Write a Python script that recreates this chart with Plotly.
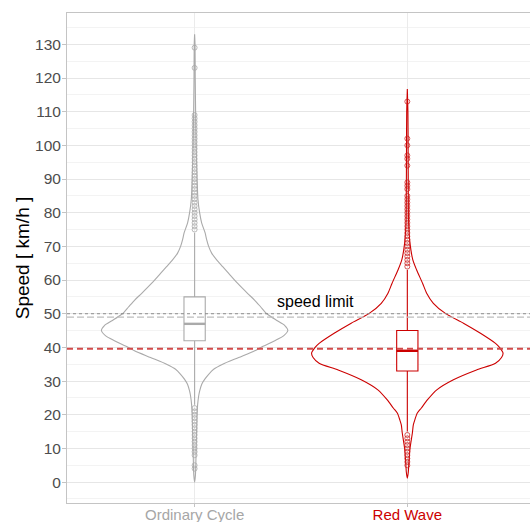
import plotly.graph_objects as go

# ---------------- data ----------------
categories = ["Ordinary Cycle", "Red Wave"]
positions = [1, 2]

# violin outline: speed (km/h) vs relative half-width (1.0 = widest allowed)
ord_speed = [0, 2, 5, 10, 15, 20, 23, 25.5, 27, 29, 30.5, 32, 33.5, 35, 37, 39, 40, 42,
             43.5, 45, 46.5, 48, 50, 52, 54, 56, 59, 62, 64, 66, 68, 70, 72, 74, 77, 80,
             84, 90, 100, 110, 120, 130, 133]
ord_width = [0, 0.8, 1.2, 1.5, 2, 2.5, 3, 4, 5, 7, 10, 14, 19, 28, 44, 60, 66, 80,
             89, 93, 90, 82, 72, 66, 60, 53, 43, 34, 28, 22, 17, 14, 12, 10.5, 7, 5,
             3.3, 2.5, 1.5, 1, 0.6, 0.4, 0]

red_speed = [1.2, 3, 5, 10, 14.5, 17, 18.5, 20.5, 22, 24.4, 27.4, 30.4, 33.3, 35.3, 37,
             38.3, 40, 41.2, 44.2, 47.2, 50.1, 53.1, 56.1, 59, 63, 66, 70.9, 77, 85, 100,
             110, 116.7]
red_width = [0, 1, 1.4, 2.7, 5, 6, 7.5, 10, 14, 20, 29.4, 46, 69, 88, 94,
             95.5, 92, 88, 73, 56, 38, 26, 19.3, 15.3, 9.3, 5.5, 2.7, 1.3, 1, 0.8,
             0.6, 0]
width_ref = 95.5  # relative units of the width arrays at full width

# box statistics
q1 = [42, 33]
median = [47, 39]
q3 = [55, 45]
lower_whisker = [23, 15]
upper_whisker = [74, 63]

# outliers
ord_outliers = list(range(4, 6)) + list(range(8, 23)) + list(range(75, 110)) + [123, 129]
red_outliers = list(range(5, 15)) + list(range(64, 86)) + [87, 88, 89, 94, 96, 97, 100, 102, 113]

# reference lines
speed_limit = 50
mean_ordinary = 49
mean_red = 39.6

# ---------------- style ----------------
grey_col = "#aaaaaa"
red_col = "#cc0000"
colors = [grey_col, red_col]
half_w = 0.45
box_w = 0.1

fig = go.Figure()

violins = [(ord_speed, ord_width), (red_speed, red_width)]
for i, (sp, wd) in enumerate(violins):
    c = positions[i]
    left_x = [c - w / width_ref * half_w for w in wd]
    right_x = [c + w / width_ref * half_w for w in wd]
    xs = left_x + right_x[::-1]
    ys = sp + sp[::-1]
    fig.add_trace(go.Scatter(x=xs, y=ys, mode="lines",
                             line=dict(color=colors[i], width=1.1, shape="spline", smoothing=0.7),
                             hoverinfo="skip", showlegend=False))

outliers = [ord_outliers, red_outliers]
out_cols = ["rgba(170,170,170,0.8)", "rgba(204,30,30,0.75)"]
for i, o in enumerate(outliers):
    fig.add_trace(go.Scatter(x=[positions[i]] * len(o), y=o, mode="markers",
                             marker=dict(symbol="circle-open", size=5, color=out_cols[i],
                                         line=dict(width=1)),
                             hoverinfo="skip", showlegend=False))

for i in range(2):
    fig.add_trace(go.Box(x=[positions[i]], q1=[q1[i]], median=[median[i]], q3=[q3[i]],
                         lowerfence=[lower_whisker[i]], upperfence=[upper_whisker[i]],
                         width=box_w, whiskerwidth=0, boxpoints=False,
                         fillcolor="white", line=dict(color=colors[i], width=1.1),
                         hoverinfo="skip", showlegend=False))
    fig.add_trace(go.Scatter(x=[positions[i] - box_w / 2, positions[i] + box_w / 2],
                             y=[median[i], median[i]], mode="lines",
                             line=dict(color=colors[i], width=2.4),
                             hoverinfo="skip", showlegend=False))

# reference lines
hlines = [(speed_limit, "#8c8c8c", 1, "3px,3px"),
          (mean_ordinary, "#bdbdbd", 1.2, "7px,3px"),
          (mean_red, "#d24a4a", 1.8, "6px,4px")]
for yv, col, lw, dash in hlines:
    fig.add_shape(type="line", xref="paper", yref="y", x0=0, x1=1, y0=yv, y1=yv,
                  line=dict(color=col, width=lw, dash=dash), layer="above")

fig.add_annotation(x=1.57, y=speed_limit + 3.5, text="speed limit", showarrow=False,
                   font=dict(size=16, color="black"), xanchor="center", yanchor="middle")

tick_text = ['<span style="color:#a6a6a6">%s</span>' % categories[0],
             '<span style="color:#cc0000">%s</span>' % categories[1]]

fig.update_layout(
    width=530, height=522,
    margin=dict(l=67, r=0, t=13, b=19),
    paper_bgcolor="white", plot_bgcolor="white",
    font=dict(family="Liberation Sans, Arial, sans-serif"),
    boxmode="overlay",
    xaxis=dict(range=[0.4, 2.5768], tickvals=positions, ticktext=tick_text,
               showgrid=True, gridcolor="#ebebeb", gridwidth=1,
               showline=True, linecolor="#c4c4c4", linewidth=1, mirror=True,
               ticks="outside", ticklen=3, tickcolor="#c4c4c4", ticklabelstandoff=-5,
               tickfont=dict(size=15), zeroline=False, automargin=False),
    yaxis=dict(range=[-6.2, 139.3], tickvals=list(range(0, 131, 10)),
               showgrid=True, gridcolor="#e6e6e6", gridwidth=1,
               minor=dict(dtick=5, tick0=5, showgrid=True, gridcolor="#f3f3f3", gridwidth=1),
               showline=True, linecolor="#c4c4c4", linewidth=1,
               ticks="outside", ticklen=4, tickcolor="#c4c4c4", ticklabelstandoff=-2,
               tickfont=dict(size=15.5, color="#4d4d4d"), zeroline=False, automargin=False,
               title=dict(text="Speed [ km/h ]", font=dict(size=19, color="black"), standoff=0)),
)

fig.write_html("out.html")
